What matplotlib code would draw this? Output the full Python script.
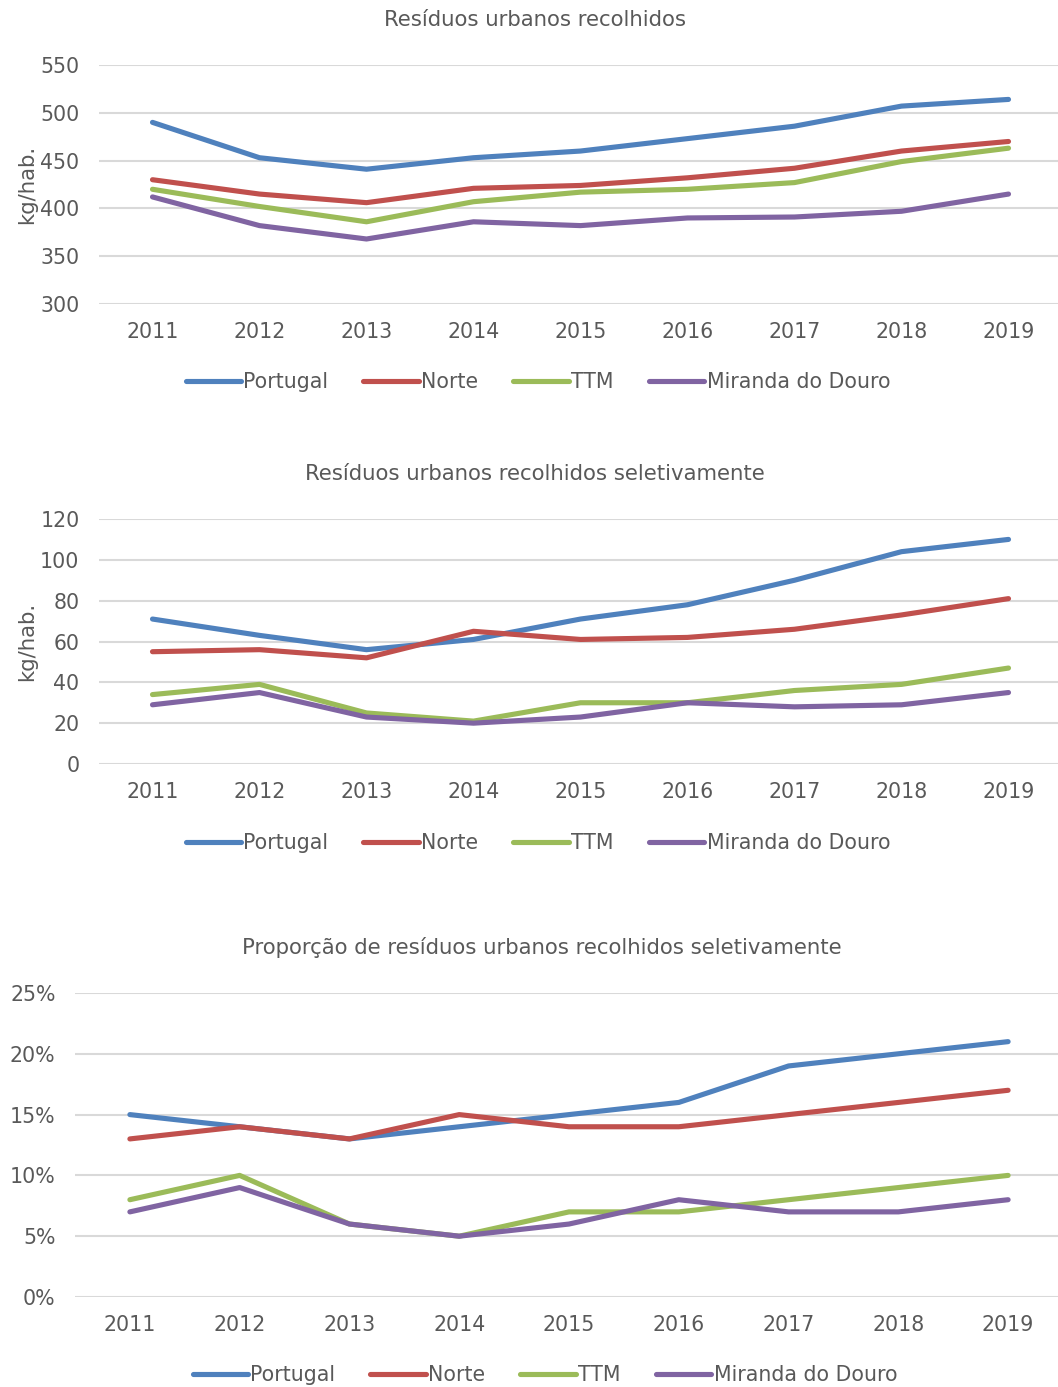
import numpy as np
import matplotlib.pyplot as plt
from matplotlib.ticker import FuncFormatter

plt.rcParams['font.family'] = ['DejaVu Sans']

years = ["2011", "2012", "2013", "2014", "2015", "2016", "2017", "2018", "2019"]
series_names = ["Portugal", "Norte", "TTM", "Miranda do Douro"]
colors = ["#4F81BD", "#C0504D", "#9BBB59", "#8064A2"]

# kg/hab.
recolhidos = {
    "Portugal": [490, 453, 441, 453, 460, 473, 486, 507, 514],
    "Norte": [430, 415, 406, 421, 424, 432, 442, 460, 470],
    "TTM": [420, 402, 386, 407, 417, 420, 427, 449, 463],
    "Miranda do Douro": [412, 382, 368, 386, 382, 390, 391, 397, 415],
}

# kg/hab.
seletivos = {
    "Portugal": [71, 63, 56, 61, 71, 78, 90, 104, 110],
    "Norte": [55, 56, 52, 65, 61, 62, 66, 73, 81],
    "TTM": [34, 39, 25, 21, 30, 30, 36, 39, 47],
    "Miranda do Douro": [29, 35, 23, 20, 23, 30, 28, 29, 35],
}

# share of collected waste
proporcao = {
    "Portugal": [0.15, 0.14, 0.13, 0.14, 0.15, 0.16, 0.19, 0.20, 0.21],
    "Norte": [0.13, 0.14, 0.13, 0.15, 0.14, 0.14, 0.15, 0.16, 0.17],
    "TTM": [0.08, 0.10, 0.06, 0.05, 0.07, 0.07, 0.08, 0.09, 0.10],
    "Miranda do Douro": [0.07, 0.09, 0.06, 0.05, 0.06, 0.08, 0.07, 0.07, 0.08],
}

W, H = 1058, 1387
TXT = "#595959"
fig = plt.figure(figsize=(W / 100, H / 100), dpi=100)


def px_axes(left, top, right, bottom):
    return fig.add_axes([left / W, 1 - bottom / H, (right - left) / W, (bottom - top) / H])


def draw(ax, data, ylim, ystep, title, title_xy, legend_xy, ylabel=None, fmt=None):
    x = np.arange(len(years))
    for name, c in zip(series_names, colors):
        ax.plot(x, data[name], color=c, lw=3.7, solid_capstyle="round",
                solid_joinstyle="round", label=name, zorder=3)
    ax.set_xlim(-0.5, len(years) - 0.5)
    ax.set_ylim(*ylim)
    ax.set_yticks(np.arange(ylim[0], ylim[1] + ystep / 2, ystep))
    ax.set_xticks(x)
    ax.set_xticklabels(years)
    if fmt:
        ax.yaxis.set_major_formatter(FuncFormatter(fmt))
    ax.grid(axis="y", color="#D9D9D9", lw=1.5, zorder=0)
    ax.set_axisbelow(True)
    for s in ax.spines.values():
        s.set_visible(False)
    ax.tick_params(axis="both", length=0, labelsize=14.8, labelcolor=TXT)
    ax.tick_params(axis="x", pad=13)
    ax.tick_params(axis="y", pad=14)
    if ylabel:
        ax.set_ylabel(ylabel, fontsize=15.3, color=TXT, labelpad=2)
    fig.text(title_xy[0] / W, 1 - title_xy[1] / H, title, ha="center", va="center",
             fontsize=15.3, color=TXT)
    fig.legend(*ax.get_legend_handles_labels(), loc="center",
               bbox_to_anchor=(legend_xy[0] / W, 1 - legend_xy[1] / H),
               ncol=4, frameon=False, fontsize=14.8, labelcolor=TXT,
               handlelength=2.7, handletextpad=0.12, columnspacing=1.7)


ax1 = px_axes(99, 65, 1062, 304)
draw(ax1, recolhidos, (300, 550), 50, "Resíduos urbanos recolhidos",
     (535, 20), (538, 382), ylabel="kg/hab.")

ax2 = px_axes(99, 519, 1062, 764)
draw(ax2, seletivos, (0, 120), 20, "Resíduos urbanos recolhidos seletivamente",
     (535, 474), (538, 843), ylabel="kg/hab.")

ax3 = px_axes(75, 993, 1063, 1297)
draw(ax3, proporcao, (0, 0.25), 0.05,
     "Proporção de resíduos urbanos recolhidos seletivamente",
     (542, 948), (545, 1375), fmt=lambda v, _: f"{v * 100:.0f}%")

fig.savefig("out.png", dpi=100)
